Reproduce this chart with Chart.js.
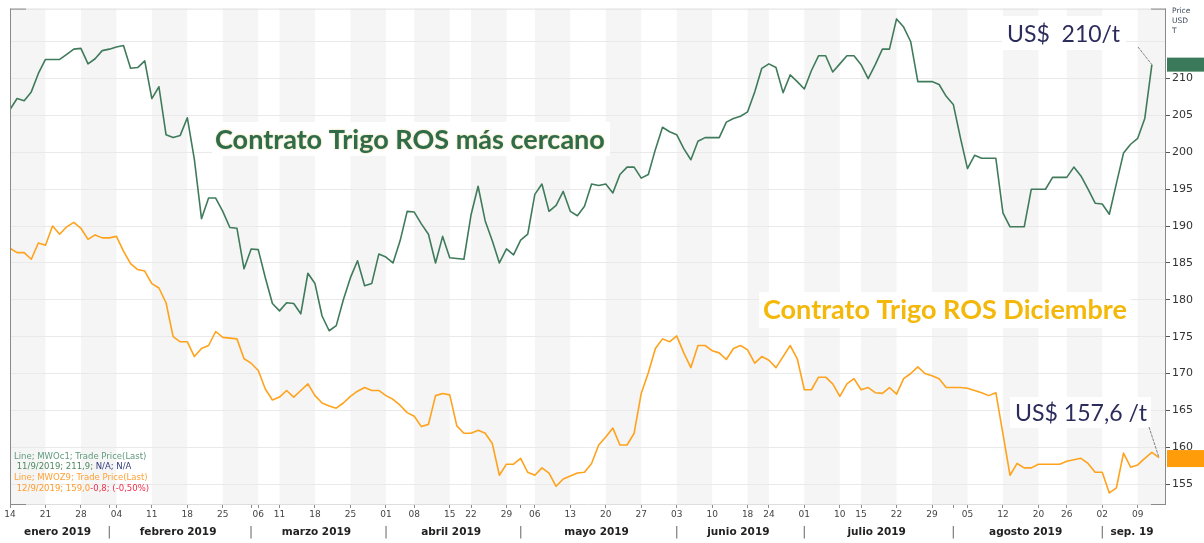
<!DOCTYPE html>
<html><head><meta charset="utf-8">
<script src="https://cdn.jsdelivr.net/npm/chart.js@4.4.0/dist/chart.umd.min.js"></script>
<style>html,body{margin:0;padding:0;background:#fff;}canvas{display:block;}</style>
</head><body>
<canvas id="c" width="1204" height="543"></canvas>
<script>
// ---- DATA ----
const categories = [
'14/01','15/01','16/01','17/01','18/01','21/01','22/01','23/01','24/01','25/01','28/01','29/01','30/01','31/01',
'01/02','04/02','05/02','06/02','07/02','08/02','11/02','12/02','13/02','14/02','15/02','18/02','19/02','20/02','21/02','22/02','25/02','26/02','27/02','28/02',
'01/03','06/03','07/03','08/03','11/03','12/03','13/03','14/03','15/03','18/03','19/03','20/03','21/03','22/03','25/03','26/03','27/03','28/03','29/03',
'01/04','03/04','04/04','05/04','08/04','09/04','10/04','11/04','12/04','15/04','16/04','17/04','22/04','23/04','24/04','25/04','26/04','29/04','30/04',
'02/05','03/05','06/05','07/05','08/05','09/05','10/05','13/05','14/05','15/05','16/05','17/05','20/05','21/05','22/05','23/05','24/05','27/05','28/05','29/05','30/05','31/05',
'03/06','04/06','05/06','06/06','07/06','10/06','11/06','12/06','13/06','14/06','18/06','19/06','21/06','24/06','25/06','26/06','27/06','28/06',
'01/07','02/07','03/07','04/07','05/07','10/07','11/07','12/07','15/07','16/07','17/07','18/07','19/07','22/07','23/07','24/07','25/07','26/07','29/07','30/07','31/07',
'01/08','02/08','05/08','06/08','07/08','08/08','09/08','12/08','13/08','14/08','15/08','16/08','20/08','21/08','22/08','23/08','26/08','27/08','28/08','29/08','30/08',
'02/09','03/09','04/09','05/09','06/09','09/09','10/09','11/09','12/09'
];
const weekTicks = ['14/01','21/01','28/01','04/02','11/02','18/02','25/02','06/03','11/03','18/03','25/03',
'01/04','08/04','15/04','22/04','29/04','06/05','13/05','20/05','27/05','03/06','10/06','18/06','24/06',
'01/07','10/07','15/07','22/07','29/07','05/08','12/08','20/08','26/08','02/09','09/09'];
const monthNames = ['enero 2019','febrero 2019','marzo 2019','abril 2019','mayo 2019','junio 2019','julio 2019','agosto 2019','sep. 19'];
const yTicks = [155,160,165,170,175,180,185,190,195,200,205,210,215];

// Contrato Trigo ROS más cercano (MWOc1), USD/t
const nearestContract = [
205.8,207.3,207.0,208.2,210.7,212.6,212.6,212.6,213.3,214.0,
214.1,212.0,212.7,213.8,214.0,214.3,214.5,211.4,211.5,212.4,
207.3,208.9,202.4,202.0,202.3,204.7,199.0,191.0,193.8,193.8,
192.0,189.8,189.7,184.2,186.9,186.8,183.0,179.5,178.5,179.6,
179.5,178.1,183.6,182.2,177.8,175.8,176.5,180.0,183.0,185.3,
181.9,182.2,186.2,185.8,185.0,188.0,192.0,191.9,190.3,188.9,
185.0,188.6,185.7,185.6,185.5,191.5,195.4,190.7,188.0,185.0,
186.9,186.1,188.1,188.9,194.3,195.7,192.0,192.8,194.7,192.0,
191.4,192.7,195.7,195.5,195.7,194.5,197.0,198.0,198.0,196.5,
197.0,200.4,203.4,202.8,202.4,200.5,199.0,201.5,202.0,202.0,
202.0,204.1,204.6,204.9,205.5,208.2,211.4,212.0,211.5,208.1,
210.5,209.6,208.6,211.1,213.1,213.1,210.9,212.0,213.1,213.1,
211.9,210.0,211.9,214.0,214.0,218.1,217.0,215.0,209.6,209.6,
209.6,209.2,207.6,206.5,202.0,197.8,199.6,199.2,199.2,199.2,
191.8,189.9,189.9,189.9,195.0,195.0,195.0,196.6,196.6,196.6,
198.0,196.8,195.0,193.1,193.0,191.6,195.8,199.9,201.1,201.9,
204.6,211.9
];
// Contrato Trigo ROS Diciembre (MWOZ9), USD/t
const decemberContract = [
187.0,186.4,186.4,185.5,187.7,187.4,190.0,188.9,189.9,190.5,
189.7,188.2,188.8,188.4,188.4,188.6,186.6,184.9,184.1,183.9,
182.2,181.6,179.6,175.0,174.3,174.3,172.3,173.4,173.8,175.7,
174.9,174.8,174.7,172.0,171.4,170.4,167.9,166.4,166.8,167.7,
166.8,167.7,168.6,167.0,166.0,165.6,165.3,166.0,166.9,167.6,
168.1,167.7,167.7,167.0,166.5,165.7,164.7,164.2,162.8,163.1,
167.0,167.3,167.1,162.9,161.9,161.9,162.3,161.9,160.5,156.2,
157.7,157.7,158.5,156.6,156.2,157.2,156.5,154.7,155.7,156.1,
156.5,156.6,157.8,160.3,161.4,162.6,160.3,160.3,161.9,167.3,
170.1,173.4,174.7,174.3,175.1,172.8,170.8,173.8,173.8,173.1,
172.8,171.9,173.4,173.8,173.2,171.4,172.3,171.8,170.8,172.3,
173.8,172.0,167.8,167.8,169.5,169.5,168.6,166.9,168.6,169.3,
167.8,168.1,167.4,167.3,168.1,167.2,169.3,170.0,170.9,170.0,
169.7,169.3,168.1,168.1,168.1,168.0,167.7,167.4,167.0,167.4,
161.8,156.2,157.8,157.2,157.2,157.7,157.7,157.7,157.7,158.1,
158.3,158.5,157.8,156.6,156.6,153.8,154.5,159.2,157.3,157.6,
158.5,159.3,158.6
];

// ---- derived helpers ----
const weekIdx = weekTicks.map(d => categories.indexOf(d));
const monthStartIdx = [];
categories.forEach((d, i) => { if (i === 0 || d.slice(3) !== categories[i - 1].slice(3)) monthStartIdx.push(i); });
const tickIdx = Array.from(new Set(weekIdx.concat(monthStartIdx))).sort((a, b) => a - b);
const monthTicks = [];
monthStartIdx.forEach((s, m) => {
  const next = m + 1 < monthStartIdx.length ? monthStartIdx[m + 1] : categories.length;
  if (m > 0) monthTicks.push({ v: s, label: '|' });
  monthTicks.push({ v: (s + next) / 2 - 0.3, label: monthNames[m] });
});
monthTicks.sort((a, b) => a.v - b.v);

const GREEN = '#3f7b5b', ORANGE = '#ffa21c';
const xMin = 0, xMax = categories.length - 1 + 0.85;

const bandsPlugin = {
  id: 'bands',
  beforeDraw(chart) {
    const { ctx, chartArea: a, scales: { x } } = chart;
    ctx.save();
    ctx.fillStyle = '#fff';
    ctx.fillRect(0, 0, chart.width, chart.height);
    for (let k = 0; k < weekIdx.length; k += 2) {
      const x0 = x.getPixelForValue(weekIdx[k]);
      const x1 = k + 1 < weekIdx.length ? x.getPixelForValue(weekIdx[k + 1]) : a.right;
      ctx.fillStyle = '#f5f5f5';
      ctx.fillRect(x0, a.top, Math.min(x1, a.right) - x0, a.bottom - a.top);
    }
    ctx.restore();
  }
};

function drawFitText(ctx, s) {
  ctx.save();
  ctx.fillStyle = '#fff';
  ctx.fillRect(s.box[0], s.box[1], s.box[2], s.box[3]);
  ctx.font = `${s.weight} 100px ${s.family}`;
  const w = ctx.measureText(s.text).width;
  const size = 100 * s.w / w;
  ctx.font = `${s.weight} ${size.toFixed(2)}px ${s.family}`;
  ctx.textAlign = 'left';
  ctx.textBaseline = 'alphabetic';
  if (s.glow) { ctx.shadowColor = s.glow; ctx.shadowBlur = 2; }
  ctx.fillStyle = s.color;
  ctx.fillText(s.text, s.x, s.base);
  ctx.restore();
}

const annotPlugin = {
  id: 'annot',
  beforeDatasetsDraw(chart) {
    const ctx = chart.ctx;
    drawFitText(ctx, { text: 'Contrato Trigo ROS más cercano', x: 215, base: 149, w: 390, weight: 'bold', family: 'Lato', color: '#2f6c4d', glow: 'rgba(215,190,70,0.75)', box: [212, 122, 398, 34] });
    drawFitText(ctx, { text: 'Contrato Trigo ROS Diciembre', x: 763, base: 319, w: 364, weight: 'bold', family: 'Lato', color: '#f3b80a', box: [759, 292, 372, 36] });
    drawFitText(ctx, { text: 'US$  210/t', x: 1007, base: 42, w: 113, weight: 'normal', family: 'Lato', color: '#2c2c5c', box: [1002, 16, 124, 34] });
    drawFitText(ctx, { text: 'US$ 157,6 /t', x: 1015, base: 421, w: 132, weight: 'normal', family: 'Lato', color: '#2c2c5c', box: [1010, 397, 141, 31] });
  },
  afterDraw(chart) {
    const { ctx, chartArea: a, scales: { x, y } } = chart;
    ctx.save();
    // frame
    ctx.lineWidth = 1;
    ctx.strokeStyle = '#dedede';
    ctx.beginPath();
    ctx.moveTo(a.left, a.top + 0.5); ctx.lineTo(a.right, a.top + 0.5);
    ctx.moveTo(a.left, a.bottom + 0.5); ctx.lineTo(a.right, a.bottom + 0.5);
    ctx.stroke();
    ctx.strokeStyle = '#8a8a8a';
    ctx.beginPath();
    ctx.moveTo(a.left + 0.5, a.top); ctx.lineTo(a.left + 0.5, a.bottom + 1);
    ctx.moveTo(a.right + 0.5, a.top); ctx.lineTo(a.right + 0.5, a.bottom + 1);
    ctx.moveTo(a.left, a.top + 0.5); ctx.lineTo(a.left + 16, a.top + 0.5);
    ctx.moveTo(a.right - 14, a.top + 0.5); ctx.lineTo(a.right + 1, a.top + 0.5);
    ctx.moveTo(a.left, a.bottom + 0.5); ctx.lineTo(a.left + 16, a.bottom + 0.5);
    ctx.moveTo(a.right - 14, a.bottom + 0.5); ctx.lineTo(a.right + 1, a.bottom + 0.5);
    ctx.stroke();

    // leader lines to last values
    const gi = nearestContract.length - 1, oi = decemberContract.length - 1;
    const gx = x.getPixelForValue(gi), gy = y.getPixelForValue(nearestContract[gi]);
    const ox = x.getPixelForValue(oi), oy = y.getPixelForValue(decemberContract[oi]);
    ctx.strokeStyle = '#808080';
    ctx.setLineDash([3, 1]);
    ctx.beginPath();
    ctx.moveTo(1138, 47); ctx.lineTo(gx, gy);
    ctx.moveTo(1149, 427); ctx.lineTo(ox, oy);
    ctx.stroke();
    ctx.setLineDash([]);

    // value tags on the axis
    ctx.fillStyle = '#3a7a5a';
    ctx.fillRect(a.right + 2, gy - 7, chart.width - a.right - 2, 14);
    ctx.fillStyle = '#ff9c0a';
    ctx.fillRect(a.right + 2, oy - 7.5, chart.width - a.right - 2, 17);

    // axis title
    ctx.fillStyle = '#3d4a5c';
    ctx.font = '7.5px "DejaVu Sans"';
    ctx.textBaseline = 'middle';
    ctx.textAlign = 'left';
    ctx.fillText('Price', a.right + 7, 11);
    ctx.fillText('USD', a.right + 7, 21);
    ctx.fillText('T', a.right + 7, 31);

    // info text bottom-left
    ctx.font = '8.5px "DejaVu Sans"';
    const lx = a.left + 4;
    const seg = (parts, yy) => {
      let cx = lx;
      parts.forEach(p => { ctx.fillStyle = p[1]; ctx.fillText(p[0], cx, yy); cx += ctx.measureText(p[0]).width; });
    };
    seg([['Line; MWOc1; Trade Price(Last)', '#5f9a7c']], 457);
    seg([[' 11/9/2019; 211,9; ', '#4d8a5e'], ['N/A; N/A', '#333a7d']], 467);
    seg([['Line; MWOZ9; Trade Price(Last)', '#ffa236']], 478);
    seg([[' 12/9/2019; 159,0', '#ff9c2a'], ['-0,8; (-0,50%)', '#f0304a']], 489);
    ctx.restore();
  }
};

function make() {
  new Chart(document.getElementById('c'), {
    type: 'line',
    data: {
      datasets: [
        { label: 'MWOc1', data: nearestContract.map((v, i) => ({ x: i, y: v })), borderColor: GREEN, borderWidth: 1.6, pointRadius: 0, tension: 0, borderJoinStyle: 'round' },
        { label: 'MWOZ9', data: decemberContract.map((v, i) => ({ x: i, y: v })), borderColor: ORANGE, borderWidth: 1.6, pointRadius: 0, tension: 0, borderJoinStyle: 'round' }
      ]
    },
    options: {
      responsive: false,
      animation: false,
      devicePixelRatio: 1,
      layout: { padding: { left: 10, top: 7, right: 0, bottom: 0 } },
      plugins: { legend: { display: false }, tooltip: { enabled: false } },
      scales: {
        x: {
          type: 'linear', position: 'bottom', min: xMin, max: xMax, weight: 1,
          grid: { drawOnChartArea: false, drawTicks: true, tickLength: 4, tickColor: '#8c8c8c', color: '#8c8c8c' },
          border: { display: false },
          afterBuildTicks(s) { s.ticks = tickIdx.map(v => ({ value: v })); },
          ticks: {
            autoSkip: false, maxRotation: 0, minRotation: 0, padding: 1, color: '#444',
            font: { family: 'DejaVu Sans', size: 9 },
            callback(v) { const k = weekIdx.indexOf(v); return k >= 0 ? weekTicks[k].slice(0, 2) : ''; }
          },
          afterFit(s) { s.height = 20; }
        },
        x2: {
          type: 'linear', position: 'bottom', min: xMin, max: xMax, weight: 2,
          grid: { display: false, drawTicks: false, tickLength: 0 }, border: { display: false },
          afterBuildTicks(s) { s.ticks = monthTicks.map(t => ({ value: t.v })); },
          ticks: {
            autoSkip: false, maxRotation: 0, minRotation: 0, padding: 2,
            color: ctx => (monthTicks[ctx.index] && monthTicks[ctx.index].label === '|') ? '#666' : '#222',
            font: ctx => (monthTicks[ctx.index] && monthTicks[ctx.index].label === '|') ? { family: 'DejaVu Sans', size: 12 } : { family: 'DejaVu Sans', size: 10.5, weight: 'bold' },
            callback(v, i) { return monthTicks[i] ? monthTicks[i].label : ''; }
          },
          afterFit(s) { s.height = 19; }
        },
        y: {
          type: 'linear', position: 'right', min: 152.3, max: 219.5,
          grid: { color: '#e9e9e9', drawTicks: true, tickLength: 5, tickColor: ctx => (ctx.tick && ctx.tick.value === 215) ? 'rgba(0,0,0,0)' : '#555' },
          border: { display: false },
          afterBuildTicks(s) { s.ticks = yTicks.map(v => ({ value: v })); },
          ticks: {
            autoSkip: false, padding: 2, color: '#333',
            font: { family: 'DejaVu Sans', size: 11 },
            callback(v) { return v === 215 ? '' : String(v); }
          },
          afterFit(s) { s.width = 39; }
        }
      }
    },
    plugins: [bandsPlugin, annotPlugin]
  });
}
if (document.fonts && document.fonts.load) {
  Promise.all([document.fonts.load('bold 20px Lato'), document.fonts.load('20px Lato'), document.fonts.load('10px "DejaVu Sans"'), document.fonts.load('bold 10px "DejaVu Sans"')]).then(make, make);
} else { make(); }
</script>
</body></html>
